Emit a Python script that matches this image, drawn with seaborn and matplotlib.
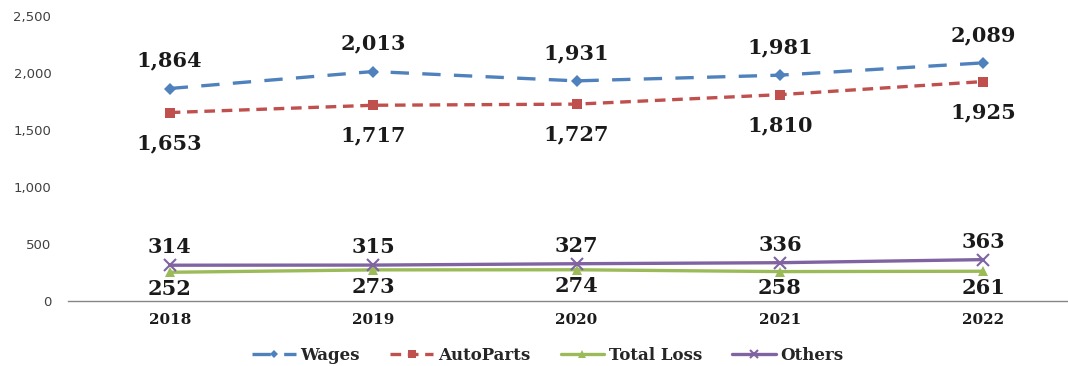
import matplotlib
matplotlib.use("Agg")
import matplotlib.pyplot as plt
import seaborn as sns
import numpy as np

years = ["2018", "2019", "2020", "2021", "2022"]
wages = [1864, 2013, 1931, 1981, 2089]
autoparts = [1653, 1717, 1727, 1810, 1925]
total_loss = [252, 273, 274, 258, 261]
others = [314, 315, 327, 336, 363]

sns.set_theme(style="white")
plt.rcParams["font.family"] = ["DejaVu Sans"]

fig = plt.figure(figsize=(10.68, 3.66), dpi=100)
ax = fig.add_axes([68 / 1068, 1 - 301 / 366, 1 - 68 / 1068, 285 / 366])

x = np.arange(len(years))
series = [
    ("Wages", wages, "#4F81BD", "D", 6.5, (0, (5.5, 4.0)), "above", 20),
    ("AutoParts", autoparts, "#C0504D", "s", 7.5, (0, (3.2, 2.0)), "below", 22),
    ("Total Loss", total_loss, "#9BBB59", "^", 7.5, "-", "below", 12),
    ("Others", others, "#8064A2", "x", 8, "-", "above", 13),
]

for name, vals, color, marker, ms, ls, pos, off in series:
    sns.lineplot(x=x, y=vals, ax=ax, color=color, linewidth=2.4, linestyle=ls,
                 marker=marker, markersize=ms, markeredgecolor=color,
                 markeredgewidth=1.5 if marker == "x" else 0, label=name)
    for xi, v in zip(x, vals):
        dy = off if pos == "above" else -off
        ax.annotate(f"{v:,}", (xi, v), xytext=(0, dy), textcoords="offset points",
                    ha="center", va="center", fontsize=15, fontweight="bold",
                    family="DejaVu Serif", color="#1a1a1a")

ax.set_ylim(0, 2500)
ax.set_xlim(-0.5, 4.5 - 17 / 203)
ax.set_yticks(range(0, 2501, 500))
ax.set_yticklabels([f"{v:,}" for v in range(0, 2501, 500)], fontsize=9.5, color="#404040")
ax.set_xticks(x)
ax.set_xticklabels(years, fontsize=11, fontweight="bold", family="DejaVu Serif", color="#1a1a1a")
ax.tick_params(axis="y", length=0, pad=12)
ax.tick_params(axis="x", length=0, pad=9)
for s in ["top", "right", "left"]:
    ax.spines[s].set_visible(False)
ax.spines["bottom"].set_color("#868686")
ax.spines["bottom"].set_linewidth(1)

leg = ax.legend(loc="center", ncol=4, frameon=False,
                prop={"family": "DejaVu Serif", "weight": "bold", "size": 12},
                handlelength=2.6, columnspacing=1.8, handletextpad=0.3, markerscale=0.7)
leg.set_bbox_to_anchor((548 / 1068, 1 - 355 / 366), transform=fig.transFigure)

fig.savefig("out.png", dpi=100)
